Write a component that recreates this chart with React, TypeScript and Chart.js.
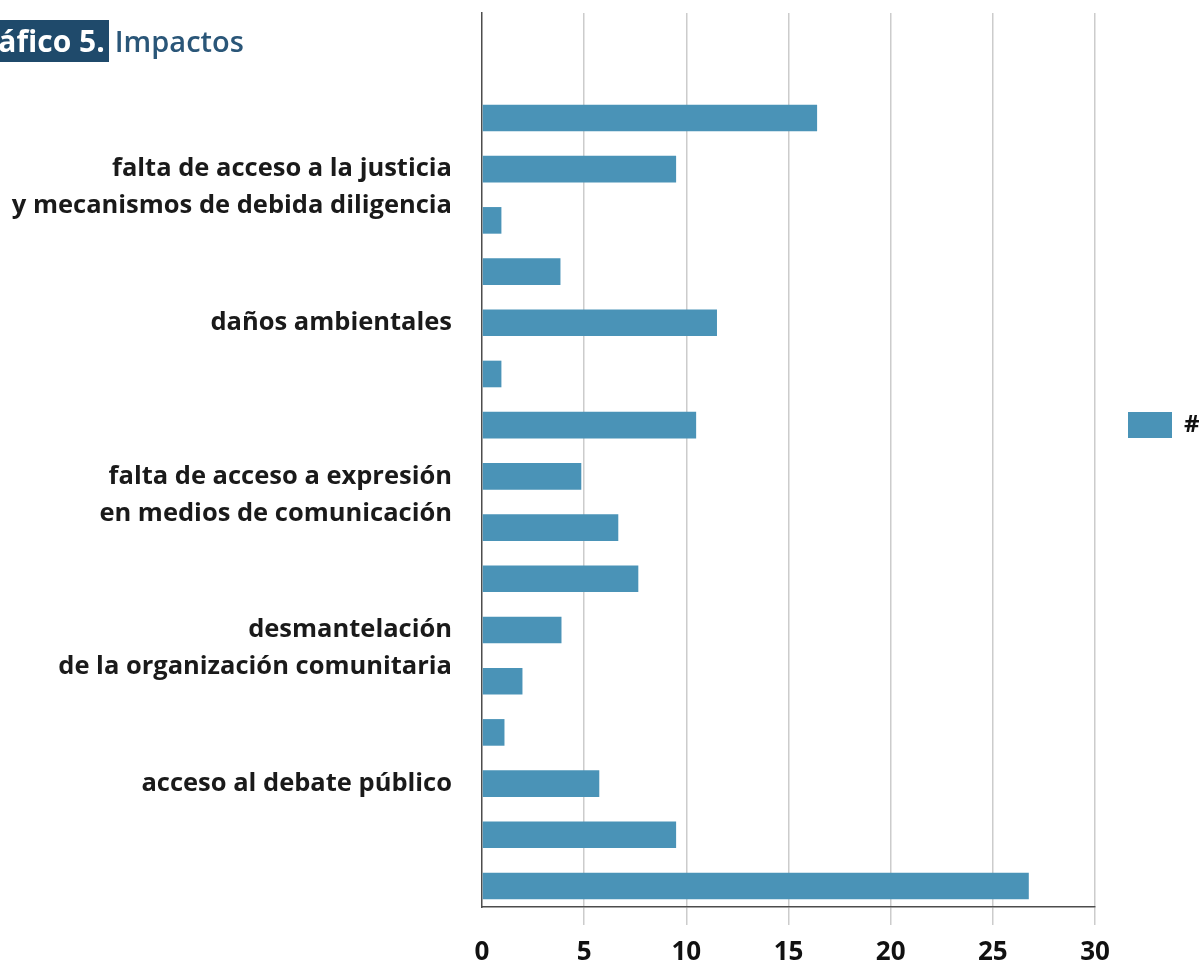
import React, { useEffect, useRef } from "react";
import { Chart, registerables } from "chart.js";

Chart.register(...registerables);

// Category labels (only some are shown on the axis in the original chart)
const categoryLabels: string[][] = [
  [],
  ["falta de acceso a la justicia", "y mecanismos de debida diligencia"],
  [],
  [],
  ["daños ambientales"],
  [],
  [],
  ["falta de acceso a expresión", "en medios de comunicación"],
  [],
  [],
  ["desmantelación", "de la organización comunitaria"],
  [],
  [],
  ["acceso al debate público"],
  [],
  [],
];

const seriesLabel = "#";
const seriesValues = [16.4, 9.5, 0.95, 3.84, 11.5, 0.95, 10.48, 4.86, 6.67, 7.65, 3.89, 1.98, 1.1, 5.74, 9.5, 26.76];
const xTickValues = [0, 5, 10, 15, 20, 25, 30];

const FONT = "'Open Sans', 'Noto Sans', sans-serif";

export default function App() {
  const canvasRef = useRef<HTMLCanvasElement | null>(null);

  useEffect(() => {
    const canvas = canvasRef.current;
    if (!canvas) return;
    const chart = new Chart(canvas, {
      type: "bar",
      data: {
        datasets: [
          {
            label: seriesLabel,
            data: seriesValues.map((v, i) => ({ x: v, y: i })),
            backgroundColor: "#4a93b7",
            borderWidth: 0,
            categoryPercentage: 0.52,
            barPercentage: 1,
          },
        ],
      },
      options: {
        indexAxis: "y",
        responsive: false,
        animation: false,
        layout: { padding: { top: 13, left: 0, right: 0, bottom: 0 } },
        scales: {
          x: {
            type: "linear",
            position: "bottom",
            min: 0,
            max: 30,
            afterBuildTicks: (s: any) => {
              s.ticks = xTickValues.map((v) => ({ value: v }));
            },
            afterFit: (s: any) => {
              s.height = 54;
              s.paddingLeft = 0;
              s.paddingRight = 0;
            },
            grid: {
              color: (ctx: any) =>
                ctx.tick && ctx.tick.value === 0 ? "rgba(0,0,0,0)" : "#cccccc",
              lineWidth: 1.5,
              tickLength: 18,
              drawTicks: true,
            },
            border: { display: true, color: "#4d4d4d", width: 1.5 },
            ticks: {
              padding: 12,
              color: "#111111",
              font: { family: FONT, size: 26, weight: "700", lineHeight: 1.2 },
            },
          },
          y: {
            type: "linear",
            position: "left",
            reverse: true,
            offset: false,
            grace: 0,
            bounds: "data",
            min: -2.05,
            max: 15.41,
            afterBuildTicks: (s: any) => {
              s.ticks = categoryLabels
                .map((l, i) => (l.length ? { value: i } : null))
                .filter(Boolean);
            },
            afterFit: (s: any) => {
              s.width = 482;
              s.paddingTop = 0;
              s.paddingBottom = 0;
            },
            grid: { display: false, drawTicks: false, offset: false },
            border: { display: true, color: "#4d4d4d", width: 1.5 },
            ticks: {
              autoSkip: false,
              padding: 30,
              color: "#1a1a1a",
              font: { family: FONT, size: 25.5, weight: "700", lineHeight: 37 / 25.5 },
              callback: (value: any) => {
                const lines = categoryLabels[Math.round(Number(value))] || [];
                if (lines.length > 1) return ["", ...lines];
                return lines[0] || "";
              },
            },
          },
        },
        plugins: {
          tooltip: { enabled: false },
          legend: {
            display: true,
            position: "right",
            align: "start",
            maxWidth: 107,
            title: {
              display: true,
              text: " ",
              padding: { top: 356, bottom: 0 },
              font: { size: 10, lineHeight: 1 },
            },
            labels: {
              boxWidth: 44,
              boxHeight: 26,
              padding: 33,
              color: "#111111",
              font: { family: FONT, size: 24, weight: "700" },
            },
          },
        },
      } as any,
    });
    return () => chart.destroy();
  }, []);

  return (
    <div
      style={{
        position: "absolute",
        left: 0,
        top: 0,
        width: 1202,
        height: 961,
        overflow: "hidden",
        background: "#ffffff",
      }}
    >
      <canvas
        ref={canvasRef}
        width={1202}
        height={961}
        style={{ display: "block", position: "absolute", left: 0, top: 0 }}
      />
      <div
        style={{
          position: "absolute",
          left: -41,
          top: 21,
          fontFamily: FONT,
          fontWeight: 700,
          lineHeight: "40px",
          whiteSpace: "nowrap",
        }}
      >
        <span
          style={{
            background: "#1f4a6b",
            color: "#ffffff",
            padding: "0px 4px 1px 4px",
            fontSize: 30,
          }}
        >
          Gráfico 5.
        </span>
        <span style={{ color: "#2a5678", fontWeight: 600, fontSize: 29, marginLeft: 6 }}>
          Impactos
        </span>
      </div>
    </div>
  );
}
